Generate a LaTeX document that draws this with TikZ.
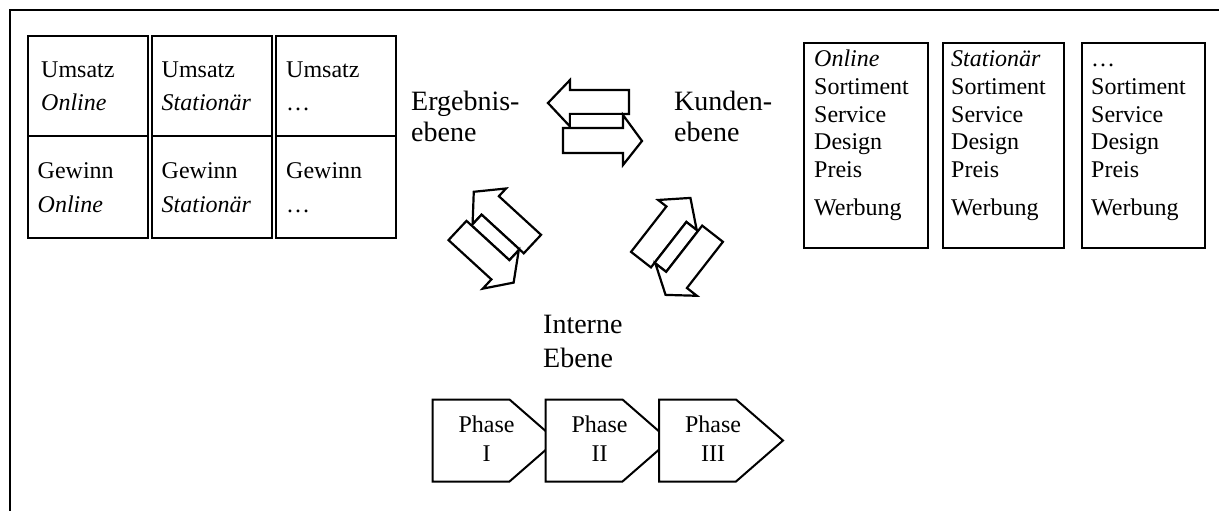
\documentclass[tikz,border=0pt]{standalone}
\usepackage{fontspec}
\setmainfont{Liberation Serif}
% two opposed block arrows with the strip between them, in local coordinates
\newcommand\arrowpairshape{%
  \draw[blockarrow] (-47,19) -- (-25,42) -- (-25,32) -- (34,32) -- (34,8)
    -- (-25,8) -- (-25,-4.5) -- cycle;
  \draw[blockarrow] (-25,-6) rectangle (28,8);
  \draw[blockarrow] (-32,-6) -- (28,-6) -- (28,7) -- (47,-19) -- (28,-43)
    -- (28,-31) -- (-32,-31) -- cycle;
}
\begin{document}
\begin{tikzpicture}[x=1pt,y=1pt,
  cell/.style={draw, line width=2.7pt, inner sep=0pt, outer sep=0pt},
  panel/.style={draw, line width=1.9pt, inner sep=0pt, outer sep=0pt},
  celltxt/.style={font=\fontsize{24}{33.5}\selectfont, inner sep=0pt, align=left, anchor=base west},
  listtxt/.style={font=\fontsize{24}{27.8}\selectfont, inner sep=0pt, align=left, anchor=base west},
  leveltxt/.style={font=\fontsize{28}{31}\selectfont, inner sep=0pt, align=left, anchor=base west},
  blockarrow/.style={draw, fill=white, line width=2.2pt, line join=miter},
  phasebox/.style={draw, fill=white, line width=2pt, line join=miter},
  phasetxt/.style={font=\fontsize{24}{29.7}\selectfont, inner sep=0pt, align=center, anchor=base},
]
\useasboundingbox (0,0) rectangle (1219,-511);

% frame
\draw[line width=2.7pt] (10,-511) -- (10,-10) -- (1219,-10);

% result level: revenue / profit grid
\node[cell, minimum width=120, minimum height=100] (u1) at (88,-86) {};
\node[cell, minimum width=120, minimum height=100] (u2) at (212,-86) {};
\node[cell, minimum width=120, minimum height=100] (u3) at (336,-86) {};
\node[cell, minimum width=120, minimum height=102] (g1) at (88,-187) {};
\node[cell, minimum width=120, minimum height=102] (g2) at (212,-187) {};
\node[cell, minimum width=120, minimum height=102] (g3) at (336,-187) {};

% (multi-line nodes: the base anchor sits on the last line)
\node[celltxt] (u1t) at (41,-110.7) {Umsatz\\\textit{Online}};
\node[celltxt] (u2t) at (161.5,-110.7) {Umsatz\\\textit{Stationär}};
\node[celltxt] (u3t) at (286,-110.7) {Umsatz\\…};
\node[celltxt] (g1t) at (37.5,-212.3) {Gewinn\\\textit{Online}};
\node[celltxt] (g2t) at (161.5,-212.3) {Gewinn\\\textit{Stationär}};
\node[celltxt] (g3t) at (286,-212.3) {Gewinn\\…};

% customer level: channel panels
\node[panel, minimum width=124, minimum height=205] (k1) at (866,-145.5) {};
\node[panel, minimum width=121, minimum height=205] (k2) at (1003.5,-145.5) {};
\node[panel, minimum width=123, minimum height=205] (k3) at (1143.5,-145.5) {};

\node[listtxt] (k1t) at (814,-215) {\textit{Online}\\Sortiment\\Service\\Design\\Preis\\[9.5pt]Werbung};
\node[listtxt] (k2t) at (951,-215) {\textit{Stationär}\\Sortiment\\Service\\Design\\Preis\\[9.5pt]Werbung};
\node[listtxt] (k3t) at (1091,-215) {…\\Sortiment\\Service\\Design\\Preis\\[9.5pt]Werbung};

% level labels
\node[leveltxt] (erg) at (411,-141.5) {Ergebnis-\\ebene};
\node[leveltxt] (kun) at (674,-141.5) {Kunden-\\ebene};
\node[leveltxt, font=\fontsize{28}{34}\selectfont] (int) at (543,-367) {Interne\\Ebene};

% exchange arrows between the levels
\begin{scope}[shift={(595,-122)}]
  \arrowpairshape
\end{scope}
\begin{scope}[cm={0.715,-0.655,0.72,0.77,(493.7,-237.2)}]
  \arrowpairshape
\end{scope}
\begin{scope}[cm={-0.60,-0.77,-0.83,0.647,(678,-246.4)}]
  \arrowpairshape
\end{scope}

% process phases
\foreach \x/\lab [count=\i] in {432.5/I,545.5/II,659/III}{
  \draw[phasebox] (\x,-399.5) -- ++(77,0) -- ++(47,-41) -- ++(-47,-41)
    -- ++(-77,0) -- cycle;
  \node[phasetxt] (phase\i) at (\x+54,-461.7) {Phase\\\lab};
}
\end{tikzpicture}
\end{document}
